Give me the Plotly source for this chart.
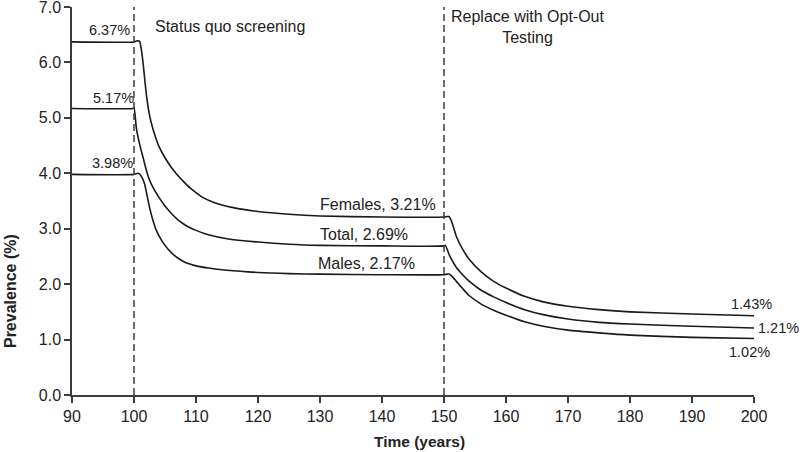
import plotly.graph_objects as go

# ---- data ----
female_x = [90, 100, 100.5, 100.9, 101.2, 101.5, 101.8, 102.1, 102.5, 103, 103.5, 104, 105, 106, 107, 108, 109, 110, 111, 113, 116, 120, 125, 130, 140, 150,
            150.5, 150.8, 151.2, 151.6, 152, 153, 154, 156, 158, 160, 163, 166, 170, 175, 180, 190, 200]
female_y = [6.37, 6.37, 6.39, 6.38, 6.22, 5.95, 5.62, 5.33, 5.05, 4.82, 4.64, 4.49, 4.28, 4.11, 3.97, 3.85, 3.74, 3.65, 3.57, 3.47, 3.38, 3.31, 3.26, 3.23, 3.21, 3.21,
            3.22, 3.22, 3.14, 3.00, 2.86, 2.63, 2.46, 2.22, 2.05, 1.93, 1.78, 1.68, 1.60, 1.54, 1.50, 1.46, 1.43]

total_x = [90, 99.8, 100, 100.4, 101, 101.5, 102, 102.5, 103, 104, 105, 106, 107, 108.5, 110, 112, 115, 120, 125, 130, 140, 150,
           150.2, 151, 152, 153, 154, 156, 158, 160, 163, 166, 170, 175, 180, 190, 200]
total_y = [5.17, 5.17, 5.18, 4.80, 4.48, 4.27, 4.05, 3.88, 3.76, 3.57, 3.41, 3.28, 3.17, 3.05, 2.97, 2.89, 2.82, 2.76, 2.72, 2.70, 2.69, 2.69,
           2.70, 2.49, 2.30, 2.17, 2.06, 1.89, 1.77, 1.67, 1.54, 1.45, 1.37, 1.31, 1.28, 1.24, 1.21]

male_x = [90, 100, 100.6, 100.9, 101.3, 101.7, 102, 102.5, 103, 103.6, 104.5, 105.5, 106.5, 107.5, 108.5, 110, 112, 115, 120, 125, 130, 140, 150,
          150.5, 150.9, 151.3, 152, 153, 154, 156, 158, 160, 163, 166, 170, 175, 180, 190, 200]
male_y = [3.98, 3.98, 4.00, 3.99, 3.92, 3.81, 3.66, 3.39, 3.17, 2.97, 2.78, 2.63, 2.52, 2.44, 2.38, 2.33, 2.29, 2.25, 2.21, 2.19, 2.18, 2.17, 2.17,
          2.18, 2.18, 2.14, 2.05, 1.92, 1.80, 1.64, 1.53, 1.44, 1.32, 1.24, 1.17, 1.12, 1.08, 1.04, 1.02]

intervention_x = [100, 150]
x_ticks = [90, 100, 110, 120, 130, 140, 150, 160, 170, 180, 190, 200]
y_ticks = [0, 1, 2, 3, 4, 5, 6, 7]

FONT = "Liberation Sans, Arial, sans-serif"
LINE = "#1a1a1a"
AXIS = "#3c3c3c"
TXT = "#222222"

fig = go.Figure()
for xs, ys, name in [(female_x, female_y, "Females"), (total_x, total_y, "Total"), (male_x, male_y, "Males")]:
    fig.add_trace(go.Scatter(x=xs, y=ys, mode="lines", name=name,
                             line=dict(color=LINE, width=1.6, shape="spline", smoothing=0.6),
                             showlegend=False, hoverinfo="x+y"))

for xv in intervention_x:
    fig.add_shape(type="line", x0=xv, x1=xv, y0=0, y1=7, xref="x", yref="y",
                  line=dict(color=AXIS, width=1.5, dash="7px,4px"))

ann = []
def a(x, y, text, xanchor="center", size=14.5, xref="x", yref="y", angle=0, bold=False):
    ann.append(dict(x=x, y=y, xref=xref, yref=yref, text=f"<b>{text}</b>" if bold else text,
                    showarrow=False, xanchor=xanchor, yanchor="middle", textangle=angle,
                    font=dict(family=FONT, size=size, color=TXT)))

a(99.6, 6.59, f"{female_y[0]:.2f}%", "right")
a(100.3, 5.36, f"{total_y[0]:.2f}%", "right")
a(100.1, 4.18, f"{male_y[0]:.2f}%", "right")
a(103.0, 6.65, "Status quo screening", "left", 16)
a(163.5, 6.64, "Replace with Opt-Out<br>Testing", "center", 16)
a(149.1, 3.44, f"Females, {female_y[female_x.index(150)]:.2f}%", "right", 16)
a(144.5, 2.90, f"Total, {total_y[total_x.index(150)]:.2f}%", "right", 16)
a(145.7, 2.37, f"Males, {male_y[male_x.index(150)]:.2f}%", "right", 16)
a(199.6, 1.65, f"{female_y[-1]:.2f}%", "center")
a(199.3, 0.77, f"{male_y[-1]:.2f}%", "center")
# label just past the right end of the axis (paper coords so it is not hidden)
a(1.0025, 1.20 / 7, f"{total_y[-1]:.2f}%", "left", xref="paper", yref="paper")
# axis titles
a(0.510, -0.121, "Time (years)", "center", 15.5, xref="paper", yref="paper", bold=True)
a(-0.090, 0.267, "Prevalence (%)", "center", 16, xref="paper", yref="paper", angle=-90, bold=True)

fig.update_layout(
    width=800, height=452,
    margin=dict(l=72, r=46, t=7, b=57),
    paper_bgcolor="white", plot_bgcolor="white",
    font=dict(family=FONT, size=16, color=TXT),
    annotations=ann,
    xaxis=dict(range=[90, 200], tickvals=x_ticks, ticks="outside", ticklen=6, tickwidth=1.5,
               tickcolor=AXIS, showline=True, linecolor=AXIS, linewidth=1.5, showgrid=False,
               zeroline=False, automargin=False, ticklabeloverflow="allow",
               tickfont=dict(size=16, family=FONT, color=TXT)),
    yaxis=dict(range=[0, 7], tickvals=y_ticks, tickformat=".1f", ticks="outside", ticklen=6, tickwidth=1.5,
               tickcolor=AXIS, showline=True, linecolor=AXIS, linewidth=1.5, showgrid=False,
               zeroline=False, automargin=False, ticklabeloverflow="allow",
               tickfont=dict(size=16, family=FONT, color=TXT)),
)

# remove the browser's default 8px body margin so the 800x452 figure fills the window
fig.write_html("out.html", config={"displayModeBar": False},
               post_script="document.body.style.margin='0';document.body.style.overflow='hidden';")
